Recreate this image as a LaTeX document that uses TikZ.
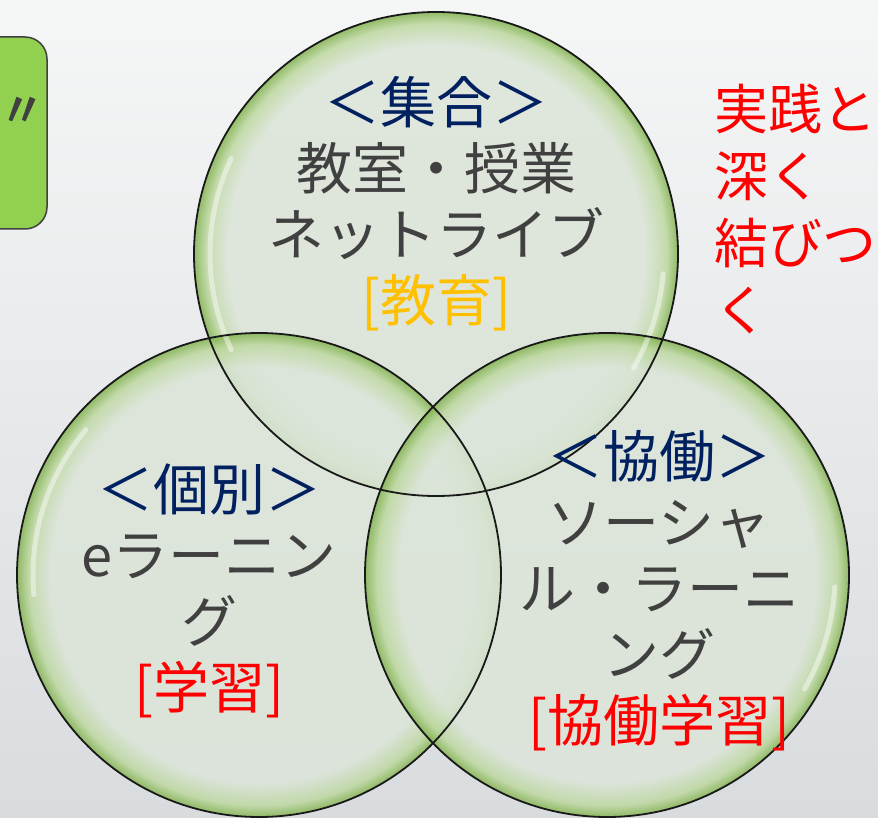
\documentclass[tikz,border=0pt]{standalone}
\usepackage{fontspec}
\setmainfont{Noto Sans CJK JP}
\newfontfamily\dittofont[FakeBold=3]{Noto Sans CJK JP}
\usepackage{tikz}
\usetikzlibrary{positioning}

\definecolor{bubin}{HTML}{DCE5D9}
\definecolor{bubmid}{HTML}{BDD8A0}
\definecolor{bubrim}{HTML}{82B24F}
\definecolor{bgtop}{HTML}{F5F6F6}
\definecolor{bgbottom}{HTML}{D9DCDF}
\definecolor{boxgreen}{HTML}{92D050}
\definecolor{navy}{HTML}{002060}
\definecolor{textgray}{HTML}{404040}
\definecolor{gold}{HTML}{FFC000}
\pgfdeclareradialshading{bubble}{\pgfpoint{0bp}{0bp}}{color(0bp)=(bubin); color(21.5bp)=(bubin); color(23.8bp)=(bubmid); color(25bp)=(bubrim); color(50bp)=(bubrim)}

\begin{document}
\begin{tikzpicture}[
    x=1pt, y=-1pt,
    bubble/.style={shading=bubble, opacity=0.85},
    rim/.style={draw=black!90, line width=1.8pt},
    gloss/.style={draw=white, line width=5pt, opacity=0.45, line cap=round},
    circtext/.style={align=center, text=textgray, inner sep=0pt,
                     font=\fontsize{56}{66}\selectfont},
    sidetext/.style={align=left, text=red, inner sep=0pt,
                     font=\fontsize{54}{67}\selectfont}
]
\useasboundingbox (0,0) rectangle (878,818);
\clip (0,0) rectangle (878,818);
\shade[top color=bgtop, bottom color=bgbottom] (0,0) rectangle (878,818);

\draw[fill=boxgreen, draw=textgray, line width=1.5pt, rounded corners=22pt] (-40,37) rectangle (47,229);
\node[text=textgray, font=\dittofont\fontsize{46}{46}\selectfont] (ditto) at (22,112) {〃};

\coordinate (ctop)   at (436,254);
\coordinate (cleft)  at (259,575);
\coordinate (cright) at (607,575);

\shade[bubble] (ctop) circle[radius=242pt];
\shade[bubble] (cleft) circle[radius=242pt];
\shade[bubble] (cright) circle[radius=242pt];

\draw[gloss] (ctop) ++(155:226pt) arc[start angle=155, end angle=205, radius=226pt];
\draw[gloss] (ctop) ++(-5:228pt) arc[start angle=-5, end angle=-30, radius=228pt];
\draw[gloss] (cleft) ++(140:226pt) arc[start angle=140, end angle=185, radius=226pt];
\draw[gloss] (cright) ++(-3:228pt) arc[start angle=-3, end angle=-30, radius=228pt];

\draw[rim] (ctop) circle[radius=242pt];
\draw[rim] (cleft) circle[radius=242pt];
\draw[rim] (cright) circle[radius=242pt];

\node[circtext] (shugo) at (436,204) {\textcolor{navy}{＜集合＞}\\教室・授業\\ネットライブ\\\textcolor{gold}{[教育]}};
\node[circtext] (kobetsu) at (209,591) {\textcolor{navy}{＜個別＞}\\eラーニン\\グ\\\textcolor{red}{[学習]}};
\node[circtext] (kyodo) at (659,591) {\textcolor{navy}{＜協働＞}\\ソーシャ\\ル・ラーニ\\ング\\\textcolor{red}{[協働学習]}};
\node[sidetext, anchor=north west] (jissen) at (714,84) {実践と\\深く\\結びつ\\く};
\end{tikzpicture}
\end{document}
